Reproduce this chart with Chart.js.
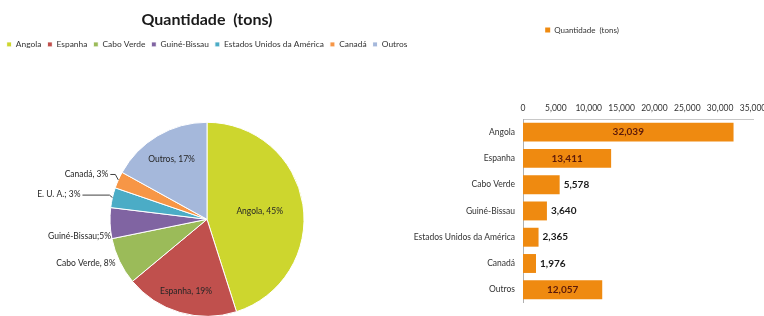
<!DOCTYPE html>
<html>
<head>
<meta charset="utf-8">
<script src="https://cdn.jsdelivr.net/npm/chart.js@4/dist/chart.umd.min.js"></script>
<style>
  html, body { margin:0; padding:0; background:#fff; width:764px; height:316px; overflow:hidden; position:relative; }
  #pieWrap { position:absolute; left:0; top:0; width:414px; height:400px; }
  #barWrap { position:absolute; left:400px; top:0; width:380px; height:316px; }
</style>
</head>
<body>
<div id="pieWrap"><canvas id="pie"></canvas></div>
<div id="barWrap"><canvas id="bar"></canvas></div>
<script>
// ---- data ----
const categories = ['Angola', 'Espanha', 'Cabo Verde', 'Guiné-Bissau', 'Estados Unidos da América', 'Canadá', 'Outros'];
const pieLabelNames = ['Angola', 'Espanha', 'Cabo Verde', 'Guiné-Bissau', 'E. U. A.', 'Canadá', 'Outros'];
const pieLabelSeparators = [', ', ', ', ', ', ';', '; ', ', ', ', '];
const quantities = [32039, 13411, 5578, 3640, 2365, 1976, 12057];
const seriesName = 'Quantidade  (tons)';
const xTicks = [0, 5000, 10000, 15000, 20000, 25000, 30000, 35000];

// ---- styles ----
const pieColors = ['#CDD62E', '#C0504D', '#9BBB59', '#8064A2', '#4BACC6', '#F79646', '#A5B8DB'];
const barColor = '#EF8A10';
const FONT = 'Lato, "Open Sans", sans-serif';

const fmt = v => v.toLocaleString('en-US');
const total = quantities.reduce((a, b) => a + b, 0);

// pie label placement style: inside (radial fraction) or outside (offset from slice edge)
const pieLabelStyle = [
  { inside: true, frac: 0.55 },
  { inside: true, frac: 0.77 },
  { inside: false, dx: -4, dy: 2 },
  { inside: false, dx: 1, dy: 13 },
  { inside: false, dx: -32, dy: -3, leader: true },
  { inside: false, dx: -10, dy: -6, leader: true },
  { inside: true, frac: 0.72 }
];

const pieLabelPlugin = {
  id: 'pieLabels',
  afterDatasetsDraw(chart) {
    const ctx = chart.ctx;
    const meta = chart.getDatasetMeta(0);
    ctx.save();
    ctx.font = '8.5px ' + FONT;
    ctx.fillStyle = '#262626';
    ctx.textBaseline = 'middle';
    meta.data.forEach((arc, i) => {
      const mid = (arc.startAngle + arc.endAngle) / 2;
      const pct = Math.round(quantities[i] / total * 100);
      const text = pieLabelNames[i] + pieLabelSeparators[i] + pct + '%';
      const st = pieLabelStyle[i];
      if (st.inside) {
        const r = arc.outerRadius * st.frac;
        ctx.textAlign = 'center';
        ctx.fillText(text, arc.x + Math.cos(mid) * r, arc.y + Math.sin(mid) * r);
      } else {
        const ex = arc.x + Math.cos(mid) * arc.outerRadius;
        const ey = arc.y + Math.sin(mid) * arc.outerRadius;
        const lx = ex + st.dx, ly = ey + st.dy;
        ctx.textAlign = 'right';
        ctx.fillText(text, lx, ly);
        if (st.leader) {
          ctx.strokeStyle = '#404040';
          ctx.lineWidth = 1;
          ctx.beginPath();
          ctx.moveTo(lx + 2, ly + 0.5);
          ctx.lineTo(ex - 3, ly + 0.5);
          ctx.lineTo(ex, ey);
          ctx.stroke();
        }
      }
    });
    ctx.restore();
  }
};

new Chart(document.getElementById('pie'), {
  type: 'pie',
  data: {
    labels: categories,
    datasets: [{
      data: quantities,
      backgroundColor: pieColors,
      borderColor: '#ffffff',
      borderWidth: 1,
      radius: 97
    }]
  },
  options: {
    responsive: true,
    maintainAspectRatio: false,
    animation: false,
    layout: { padding: { left: 0, right: 0, top: 0, bottom: 20 } },
    plugins: {
      title: {
        display: true,
        text: seriesName,
        color: '#1a1a1a',
        font: { family: FONT, size: 16, weight: 'bold' },
        padding: { top: 10, bottom: 5 }
      },
      legend: {
        position: 'top',
        labels: {
          boxWidth: 5,
          boxHeight: 5,
          padding: 6,
          color: '#333',
          font: { family: FONT, size: 8.4 }
        }
      },
      tooltip: { enabled: false }
    }
  },
  plugins: [pieLabelPlugin]
});

const barLabelPlugin = {
  id: 'barLabels',
  afterDatasetsDraw(chart) {
    const ctx = chart.ctx;
    const meta = chart.getDatasetMeta(0);
    ctx.save();
    ctx.font = 'bold 10px ' + FONT;
    ctx.textBaseline = 'middle';
    meta.data.forEach((bar, i) => {
      const v = quantities[i];
      const text = fmt(v);
      if (v > 10000) {
        ctx.fillStyle = '#5c1a0a';
        ctx.textAlign = 'center';
        ctx.fillText(text, (bar.x + bar.base) / 2, bar.y);
      } else {
        ctx.fillStyle = '#1a1a1a';
        ctx.textAlign = 'left';
        ctx.fillText(text, bar.x + 4, bar.y);
      }
    });
    ctx.restore();
  }
};

new Chart(document.getElementById('bar'), {
  type: 'bar',
  data: {
    labels: categories,
    datasets: [{
      label: seriesName,
      data: quantities,
      backgroundColor: barColor,
      borderWidth: 0,
      categoryPercentage: 0.72,
      barPercentage: 1.0
    }]
  },
  options: {
    indexAxis: 'y',
    responsive: true,
    maintainAspectRatio: false,
    animation: false,
    layout: { padding: { left: 0, right: 16, top: 16, bottom: 10 } },
    plugins: {
      legend: {
        position: 'top',
        align: 'center',
        labels: {
          boxWidth: 5,
          boxHeight: 5,
          padding: 10,
          color: '#333',
          font: { family: FONT, size: 8 }
        }
      },
      tooltip: { enabled: false }
    },
    scales: {
      x: {
        position: 'top',
        min: 0,
        max: 35000,
        afterBuildTicks: s => { s.ticks = xTicks.map(v => ({ value: v })); },
        afterFit: s => { s.height = 75; s.paddingRight = 27; },
        ticks: {
          callback: v => fmt(v),
          color: '#333',
          font: { family: FONT, size: 8.5 },
          padding: 6,
          maxRotation: 0
        },
        grid: { display: false, drawTicks: false },
        border: { display: true, color: '#c8c8c8' }
      },
      y: {
        afterFit: s => { s.width = 123; },
        ticks: {
          color: '#333',
          font: { family: FONT, size: 8.5 },
          padding: 8
        },
        grid: { display: false, drawTicks: false },
        border: { display: true, color: '#b0b0b0' }
      }
    }
  },
  plugins: [barLabelPlugin]
});
</script>
</body>
</html>
